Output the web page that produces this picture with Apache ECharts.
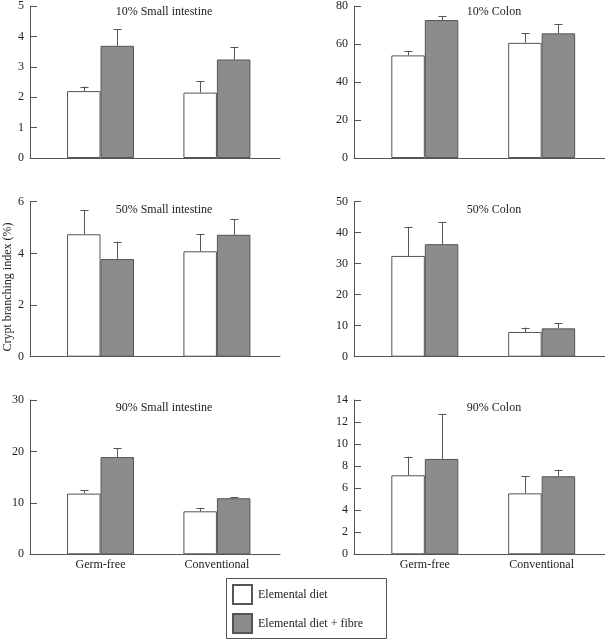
<!DOCTYPE html>
<html>
<head>
<meta charset="utf-8">
<script src="https://cdn.jsdelivr.net/npm/echarts@6/dist/echarts.min.js"></script>
<style>html,body{margin:0;padding:0;background:#fff}#c{width:605px;height:639px}</style>
</head>
<body>
<div id="c"></div>
<script>
// ---- data ----
const categories = ['Germ-free', 'Conventional'];
const seriesNames = ['Elemental diet', 'Elemental diet + fibre'];
const panelTitles = ['10% Small intestine', '10% Colon', '50% Small intestine', '50% Colon', '90% Small intestine', '90% Colon'];
const yAxisTitle = 'Crypt branching index (%)';
const yMax = [5, 80, 6, 50, 30, 14];
const yInterval = [1, 20, 2, 10, 10, 2];

const si10Elemental = [2.2, 2.15];
const si10ElementalErr = [0.15, 0.38];
const si10Fibre = [3.69, 3.24];
const si10FibreErr = [0.54, 0.42];

const colon10Elemental = [54.0, 60.6];
const colon10ElementalErr = [2.4, 5.0];
const colon10Fibre = [72.6, 65.6];
const colon10FibreErr = [2.0, 4.7];

const si50Elemental = [4.74, 4.08];
const si50ElementalErr = [0.94, 0.66];
const si50Fibre = [3.78, 4.72];
const si50FibreErr = [0.67, 0.60];

const colon50Elemental = [32.5, 7.97];
const colon50ElementalErr = [9.4, 1.4];
const colon50Fibre = [36.3, 9.14];
const colon50FibreErr = [7.1, 1.66];

const si90Elemental = [11.8, 8.36];
const si90ElementalErr = [0.7, 0.7];
const si90Fibre = [18.9, 10.9];
const si90FibreErr = [1.7, 0.2];

const colon90Elemental = [7.17, 5.53];
const colon90ElementalErr = [1.69, 1.55];
const colon90Fibre = [8.65, 7.08];
const colon90FibreErr = [4.05, 0.59];

const panels = [
  [si10Elemental, si10ElementalErr, si10Fibre, si10FibreErr],
  [colon10Elemental, colon10ElementalErr, colon10Fibre, colon10FibreErr],
  [si50Elemental, si50ElementalErr, si50Fibre, si50FibreErr],
  [colon50Elemental, colon50ElementalErr, colon50Fibre, colon50FibreErr],
  [si90Elemental, si90ElementalErr, si90Fibre, si90FibreErr],
  [colon90Elemental, colon90ElementalErr, colon90Fibre, colon90FibreErr]
];

// ---- layout / style ----
const FONT = 'Liberation Serif';
const TXT = '#222';
const LINE = '#555';
const fills = ['#ffffff', '#8c8c8c'];
const BAR_W = 33.5;
const gridLeft = [30, 354];
const gridWidth = [250, 251];
const gridTop = [4, 201.7, 400];
const gridHeight = [154, 155, 154.3];
const titleCenter = [164, 494];
const X_MIN = -0.606, X_MAX = 1.542;

const chart = echarts.init(document.getElementById('c'));
const grids = [], xAxes = [], yAxes = [], series = [], titles = [];

panels.forEach((p, i) => {
  const col = i % 2, row = Math.floor(i / 2);
  grids.push({left: gridLeft[col], top: gridTop[row], width: gridWidth[col], height: gridHeight[row], containLabel: false});
  xAxes.push({
    type: 'value', gridIndex: i, min: X_MIN, max: X_MAX,
    axisLine: {show: true, onZero: false, lineStyle: {color: LINE, width: 1}},
    axisTick: {show: false},
    splitLine: {show: false},
    axisLabel: {
      show: row === 2, customValues: [0, 1], margin: 5,
      formatter: v => categories[Math.round(v)] || '',
      fontFamily: FONT, fontSize: 12, color: TXT
    }
  });
  yAxes.push({
    type: 'value', gridIndex: i, min: 0, max: yMax[i], interval: yInterval[i],
    axisLine: {show: true, onZero: false, lineStyle: {color: LINE, width: 1}},
    axisTick: {show: true, inside: true, length: 7, lineStyle: {color: LINE}},
    splitLine: {show: false},
    axisLabel: {margin: 6, fontFamily: FONT, fontSize: 12, color: TXT}
  });
  titles.push({
    text: panelTitles[i], left: titleCenter[col], top: gridTop[row] + 2, padding: 0,
    textAlign: 'center',
    textStyle: {fontFamily: FONT, fontSize: 12, fontWeight: 'normal', color: TXT}
  });
  for (let s = 0; s < 2; s++) {
    const vals = p[s * 2], errs = p[s * 2 + 1];
    series.push({
      type: 'bar', name: seriesNames[s], xAxisIndex: i, yAxisIndex: i,
      barWidth: BAR_W, barGap: '0%',
      data: vals.map((v, k) => [k, v]),
      itemStyle: {color: fills[s], borderColor: LINE, borderWidth: 1},
      emphasis: {disabled: true},
      animation: false, z: 2
    });
    const off = (s === 0 ? -1 : 1) * BAR_W / 2;
    series.push({
      type: 'custom', name: 'err' + i + s, xAxisIndex: i, yAxisIndex: i,
      data: vals.map((v, k) => [k, v, v + errs[k]]),
      renderItem: (params, api) => {
        const a = api.coord([api.value(0), api.value(1)]);
        const b = api.coord([api.value(0), api.value(2)]);
        const x = Math.round(a[0] + off) + 0.5;
        return {
          type: 'group',
          children: [
            {type: 'line', shape: {x1: x, y1: a[1], x2: x, y2: b[1]}, style: {stroke: LINE, lineWidth: 1}},
            {type: 'line', shape: {x1: x - 4, y1: Math.round(b[1]) + 0.5, x2: x + 4, y2: Math.round(b[1]) + 0.5}, style: {stroke: LINE, lineWidth: 1}}
          ]
        };
      },
      animation: false, z: 3, silent: true
    });
  }
});

const legendTops = [584, 613];
const legends = seriesNames.map((n, s) => ({
  data: [n], orient: 'vertical', left: 232, top: legendTops[s],
  padding: 0, itemWidth: 19, itemHeight: 19, itemGap: 10,
  icon: 'rect', selectedMode: false,
  textStyle: {fontFamily: FONT, fontSize: 12, color: TXT, padding: [0, 0, 0, 1]}
}));

chart.setOption({
  backgroundColor: '#fff',
  animation: false,
  title: titles,
  grid: grids,
  xAxis: xAxes,
  yAxis: yAxes,
  series: series,
  legend: legends,
  graphic: [{
    type: 'text', x: 8, y: 287, rotation: Math.PI / 2,
    style: {text: yAxisTitle, fontFamily: FONT, fontSize: 12, fill: TXT, align: 'center', verticalAlign: 'middle'}
  }, {
    type: 'rect', shape: {x: 226.5, y: 578.5, width: 160, height: 60},
    style: {fill: 'none', stroke: LINE, lineWidth: 1}, z: 10
  }]
});
</script>
</body>
</html>
